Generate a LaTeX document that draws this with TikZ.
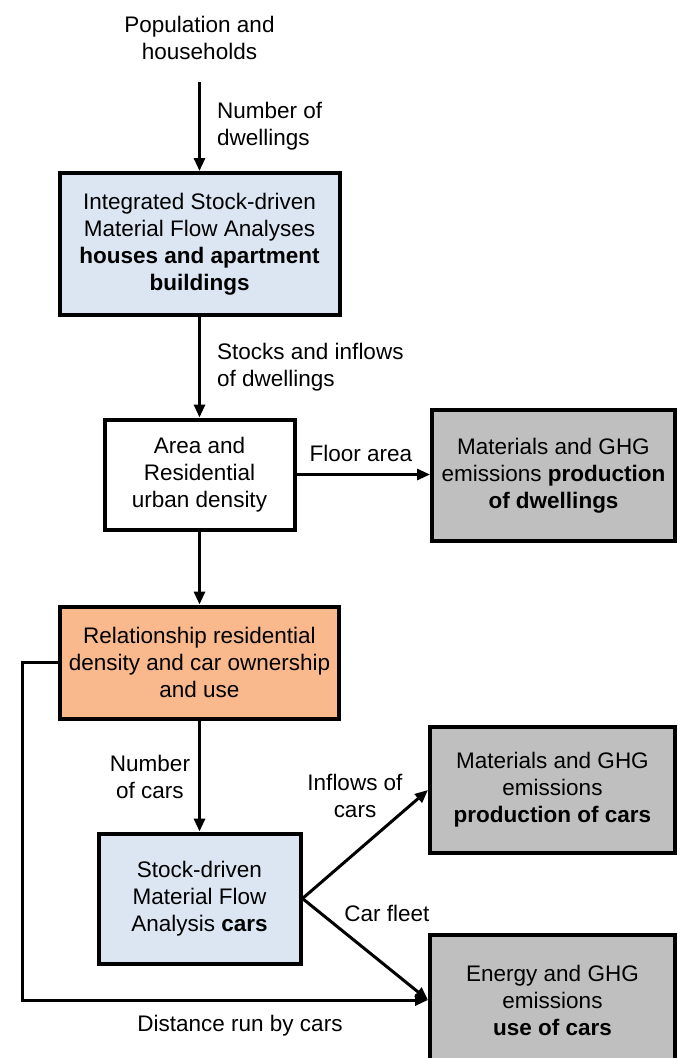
\documentclass[tikz,border=0pt]{standalone}
\usepackage{fontspec}
\setmainfont{Liberation Sans}
\usetikzlibrary{arrows.meta}
\definecolor{mfablue}{HTML}{DCE6F2}
\definecolor{densorange}{HTML}{F9B98C}
\definecolor{outgray}{HTML}{BFBFBF}
\begin{document}
\begin{tikzpicture}[
  x=1pt, y=-1pt,
  every node/.style={font=\fontsize{22.5}{27}\selectfont, inner sep=0pt, align=center},
  box/.style={draw=black, line width=4pt, rectangle},
  flow/.style={line width=3pt, -{Triangle[length=13pt,width=11pt]}},
]
\useasboundingbox (0,0) rectangle (682,1058);
\clip (0,0) rectangle (682,1058);

% model boxes
\node[box, fill=mfablue, minimum width=280pt, minimum height=142pt] (sfmhouse) at (199.5,244)
  {Integrated Stock-driven\\Material Flow Analyses\\\textbf{houses and apartment}\\\textbf{buildings}};
\node[box, fill=white, minimum width=190pt, minimum height=110pt] (density) at (199.5,474.5)
  {Area and\\Residential\\urban density};
\node[box, fill=outgray, minimum width=243pt, minimum height=131pt] (proddwell) at (553.5,475.5)
  {Materials and GHG\\emissions \textbf{production}\\\textbf{of dwellings}};
\node[box, fill=densorange, minimum width=279pt, minimum height=112pt] (carrel) at (199.5,662.5)
  {Relationship residential\\density and car ownership\\and use};
\node[box, fill=mfablue, minimum width=202pt, minimum height=130pt] (sfmcars) at (199.5,898.5)
  {Stock-driven\\Material Flow\\Analysis \textbf{cars}};
\node[box, fill=outgray, minimum width=245pt, minimum height=126pt] (prodcars) at (552.5,790)
  {Materials and GHG\\emissions\\\textbf{production of cars}};
\node[box, fill=outgray, minimum width=245pt, minimum height=130pt] (usecars) at (552.5,1000)
  {Energy and GHG\\emissions\\\textbf{use of cars}};

% input
\node (pop) at (199.5,38) {Population and\\households};
\coordinate (popfoot) at (199.5,82);

% connectors
\draw[flow] (popfoot) -- (sfmhouse.north);
\draw[flow] (sfmhouse.south) -- (density.north);
\draw[flow] (density.east) -- (proddwell.west |- density.east);
\draw[flow] (density.south) -- (carrel.north);
\draw[flow] (carrel.south) -- (sfmcars.north);
\draw[flow] (sfmcars.east) -- (prodcars.west);
\draw[flow] (sfmcars.east) -- (usecars.west);
\draw[flow] (carrel.west) -- ++(-36,0) |- (usecars.west);

% connector labels
\node[anchor=west, align=left] (lbldw) at (217,126) {Number of\\dwellings};
\node[anchor=west, align=left] (lblstock) at (217,367) {Stocks and inflows\\of dwellings};
\node (lblfloor) at (361,453) {Floor area};
\node (lblncars) at (150,777) {Number\\of cars};
\node (lblinflow) at (355,796) {Inflows of\\cars};
\node (lblfleet) at (387,913) {Car fleet};
\node (lbldist) at (240,1026) {Distance run by cars};
\end{tikzpicture}
\end{document}
